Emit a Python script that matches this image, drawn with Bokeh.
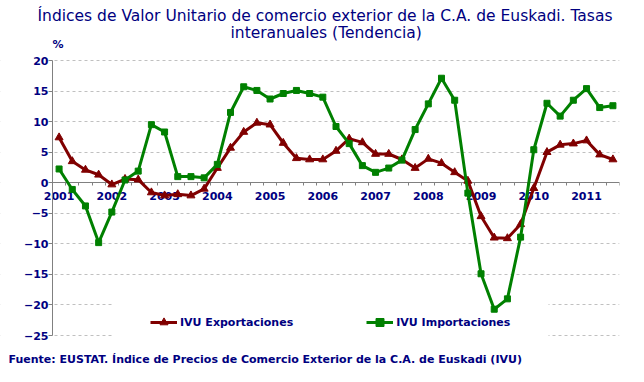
from bokeh.plotting import figure
from bokeh.models import (LinearAxis, FixedTicker, Range1d, Legend, LegendItem,
                          Title, BoxAnnotation)
from bokeh.embed import file_html
from bokeh.resources import INLINE

years = ["2001", "2002", "2003", "2004", "2005", "2006", "2007", "2008", "2009", "2010", "2011"]
quarters = [f"{y}-{q}" for y in years for q in ("I", "II", "III", "IV")][:43]

exportaciones = [7.4, 3.5, 2.1, 1.3, -0.3, 0.6, 0.5, -1.6, -2.1, -1.9, -2.1, -1.0, 2.4, 5.7,
                 8.3, 9.8, 9.5, 6.5, 4.0, 3.8, 3.8, 5.2, 7.2, 6.6, 4.7, 4.7, 3.8, 2.4, 3.9,
                 3.2, 1.7, 0.3, -5.5, -9.0, -9.1, -6.8, -0.9, 5.0, 6.2, 6.4, 6.9, 4.6, 3.8]
importaciones = [2.25, -1.1, -3.8, -9.8, -4.8, 0.45, 1.9, 9.5, 8.3, 1.0, 1.0, 0.8, 3.0, 11.5,
                 15.7, 15.1, 13.7, 14.6, 15.1, 14.6, 14.0, 9.2, 6.4, 2.8, 1.7, 2.4, 3.7, 8.7,
                 12.9, 17.1, 13.5, -1.7, -14.9, -20.7, -19.0, -8.9, 5.4, 13.0, 10.9, 13.5,
                 15.4, 12.3, 12.6]
y_ticks = [-25, -20, -15, -10, -5, 0, 5, 10, 15, 20]

NAVY = "#000080"
RED = "#800000"
GREEN = "#008000"
FONT = "DejaVu Sans"

# layout (pixels): the frame starts at the canvas edge, the y axis sits 52 px in;
# the frame reaches 8 px beyond the value axis ends so the end labels are not clipped
AXIS_X = 52
PLOT_W = 567
PLOT_H = 275
PAD = 8
n = len(quarters)
x_start = -0.5 - n * AXIS_X / PLOT_W
y_pad = PAD * (y_ticks[-1] - y_ticks[0]) / PLOT_H

x = list(range(n))

p = figure(width=644, height=382, x_range=Range1d(x_start, n - 0.5),
           y_range=Range1d(y_ticks[0] - y_pad, y_ticks[-1] + y_pad), output_backend="svg",
           toolbar_location=None, x_axis_location=None, title=None,
           min_border_left=0, min_border_right=25, min_border_top=60 - PAD,
           min_border_bottom=382 - 60 - PLOT_H - PAD)
p.outline_line_color = None
p.background_fill_color = "white"

# y axis, fixed at the left edge of the first quarter
ya = p.yaxis[0]
ya.fixed_location = -0.5
ya.bounds = (y_ticks[0], y_ticks[-1])
ya.ticker = FixedTicker(ticks=y_ticks)
ya.axis_line_color = "#808080"
ya.major_tick_line_color = "#808080"
ya.major_tick_out = 4
ya.major_tick_in = 0
ya.minor_tick_line_color = None
ya.major_label_standoff = 0
ya.major_label_text_font = FONT
ya.major_label_text_font_style = "bold"
ya.major_label_text_font_size = "11px"
ya.major_label_text_color = NAVY

p.ygrid.ticker = FixedTicker(ticks=y_ticks)
p.ygrid.grid_line_color = "#C0C0C0"
p.ygrid.grid_line_dash = "3 3"
p.xgrid.visible = False

# white margin left of the y axis (hides gridlines there)
p.add_layout(BoxAnnotation(left=0, right=AXIS_X - 0.5, top=0, bottom=382,
                           left_units="canvas", right_units="canvas",
                           top_units="canvas", bottom_units="canvas",
                           fill_color="white", fill_alpha=1.0, line_color=None,
                           level="underlay"))
# white legend background hiding the gridlines
p.add_layout(BoxAnnotation(left=113, right=548, top=300, bottom=342,
                           left_units="canvas", right_units="canvas",
                           top_units="canvas", bottom_units="canvas",
                           fill_color="white", fill_alpha=1.0, line_color=None,
                           level="underlay"))

# x axis at y = 0: tick marks between quarters
tick_axis = LinearAxis(fixed_location=0, bounds=(-0.5, n - 0.5),
                       ticker=FixedTicker(ticks=[i - 0.5 for i in range(n + 1)]))
tick_axis.axis_line_color = "#808080"
tick_axis.major_tick_line_color = "#808080"
tick_axis.major_tick_out = 3
tick_axis.major_tick_in = 0
tick_axis.minor_tick_line_color = None
tick_axis.major_label_text_color = None
tick_axis.major_label_text_font_size = "1px"
p.add_layout(tick_axis, "below")

# year labels on the first quarter of each year
year_pos = [quarters.index(f"{y}-I") for y in years]
label_axis = LinearAxis(fixed_location=0, ticker=FixedTicker(ticks=year_pos),
                        major_label_overrides={pos: y for pos, y in zip(year_pos, years)})
label_axis.axis_line_color = None
label_axis.major_tick_line_color = None
label_axis.minor_tick_line_color = None
label_axis.major_tick_out = 0
label_axis.major_tick_in = 0
label_axis.major_label_standoff = 9
label_axis.major_label_text_font = FONT
label_axis.major_label_text_font_style = "bold"
label_axis.major_label_text_font_size = "11px"
label_axis.major_label_text_color = NAVY
p.add_layout(label_axis, "below")

l1 = p.line(x, exportaciones, line_color=RED, line_width=3, level="overlay")
s1 = p.scatter(x, exportaciones, marker="triangle", size=8, fill_color=RED,
               line_color=RED, level="overlay")
l2 = p.line(x, importaciones, line_color=GREEN, line_width=3, level="overlay")
s2 = p.scatter(x, importaciones, marker="square", size=6, fill_color=GREEN,
               line_color=GREEN, level="overlay")

legend = Legend(items=[LegendItem(label="IVU Exportaciones", renderers=[l1, s1]),
                       LegendItem(label="IVU Importaciones", renderers=[l2, s2])],
                orientation="horizontal", location=(150, 3 + PAD), padding=0,
                glyph_width=27, glyph_height=20, label_standoff=3, spacing=73,
                label_width=0, label_height=20,
                background_fill_alpha=0, border_line_color=None,
                label_text_font=FONT, label_text_font_style="bold",
                label_text_font_size="11px", label_text_color=NAVY)
p.add_layout(legend, "center")

# "%" unit label (closest to the frame), then the two title lines above it
p.add_layout(Title(text="%", align="left", offset=AXIS_X, vertical_align="top", standoff=-1,
                   text_font=FONT, text_font_style="bold", text_font_size="11px",
                   text_color=NAVY), "above")
p.add_layout(Title(text="interanuales (Tendencia)",
                   align="left", offset=230, vertical_align="bottom", standoff=-7,
                   text_font=FONT, text_font_style="normal",
                   text_font_size="15.5px", text_color=NAVY), "above")
p.add_layout(Title(text="Índices de Valor Unitario de comercio exterior de la C.A. de Euskadi. Tasas",
                   align="left", offset=37, vertical_align="bottom", standoff=2,
                   text_font=FONT, text_font_style="normal",
                   text_font_size="15.5px", text_color=NAVY), "above")

# source note
p.add_layout(Title(text="Fuente: EUSTAT.  Índice de Precios de Comercio Exterior de la C.A. de Euskadi (IVU)",
                   align="left", offset=8, vertical_align="bottom", standoff=31 - 2 * PAD,
                   text_font=FONT, text_font_style="bold", text_font_size="11px",
                   text_color=NAVY), "below")

open("out.html", "w").write(file_html(p, INLINE))
